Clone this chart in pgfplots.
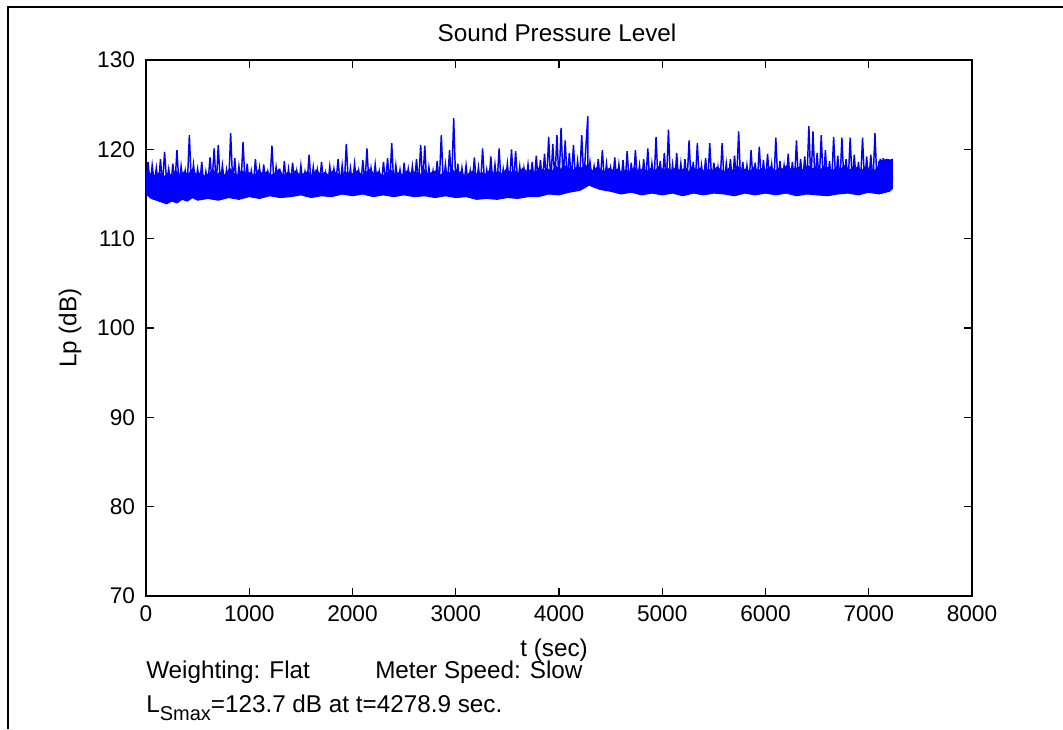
\documentclass[border=0pt]{standalone}
\usepackage{fontspec}
\setmainfont{Liberation Sans}
\usepackage{pgfplots}
\pgfplotsset{compat=1.18}
\begin{document}
\fontsize{18.2}{21}\selectfont
\begin{tikzpicture}
\path[use as bounding box] (-109.5pt,-99.75pt) rectangle (687.75pt,447pt);
\draw[line width=1.5pt] (-103.5pt,-99.75pt) -- (-103.5pt,441.75pt) -- (687.75pt,441.75pt);
\begin{axis}[
  at={(0,0)}, anchor=south west,
  scale only axis, width=619.5pt, height=402pt,
  xmin=0, xmax=8000, ymin=70, ymax=130,
  xtick={0,1000,...,8000}, ytick={70,80,...,130},
  scaled x ticks=false,
  /pgf/number format/1000 sep={},
  /pgf/number format/assume math mode=true,
  tick align=inside, major tick length=6pt,
  axis line style={line width=1.2pt}, tick style={line width=1.1pt, black},
  xticklabel style={anchor=center, inner sep=0pt, yshift=-13.5pt, font=\fontsize{17}{20}\selectfont},
  yticklabel style={anchor=east, inner sep=0pt, xshift=-8pt, font=\fontsize{17}{20}\selectfont},
  every axis title shift=0pt,
  title={Sound Pressure Level},
  title style={at={(axis description cs:0.4976,1.0504)}, anchor=center, inner sep=0pt, font=\fontsize{18.2}{21}\selectfont},
  xlabel={t (sec)},
  xlabel style={at={(axis description cs:0.494,-0.1007)}, anchor=center, inner sep=0pt, font=\fontsize{18.2}{21}\selectfont},
  ylabel={Lp (dB)},
  ylabel style={at={(axis description cs:-0.092,0.5)}, anchor=center, inner sep=0pt, font=\fontsize{18.2}{21}\selectfont},
]
% dense band: upper edge left to right, then lower edge right to left
\addplot[fill=blue, draw=blue, line width=0.7pt] coordinates {
(0,117.4)(10,117.6)(50,117.2)(90,117.0)(130,117.4)(170,116.9)(210,117.3)(250,117.1)(290,117.6)(330,117.0)(370,117.5)(410,117.2)(450,117.8)(490,117.1)(530,117.4)(570,117.0)(610,117.3)(650,117.7)(690,117.2)(730,117.5)(770,117.0)(810,117.9)(850,117.3)(890,117.1)(930,117.6)(970,117.2)
(1010,117.4)(1050,117.0)(1090,117.7)(1130,117.2)(1170,117.5)(1210,117.1)(1250,117.3)(1290,117.8)(1330,117.0)(1370,117.4)(1410,117.2)(1450,117.6)(1490,117.1)(1530,117.3)(1570,117.5)(1610,117.0)(1650,117.7)(1690,117.2)(1730,117.4)(1770,117.1)(1810,117.6)(1850,117.3)(1890,117.0)(1930,117.5)(1970,117.2)
(2010,117.3)(2050,117.6)(2090,117.1)(2130,117.4)(2170,117.8)(2210,117.2)(2250,117.5)(2290,117.0)(2330,117.3)(2370,117.7)(2410,117.2)(2450,117.4)(2490,117.1)(2530,117.6)(2570,117.3)(2610,117.5)(2650,117.0)(2690,117.8)(2730,117.2)(2770,117.4)(2810,117.6)(2850,117.1)(2890,117.5)(2930,117.3)(2970,117.7)
(3010,117.2)(3050,117.5)(3090,117.0)(3130,117.3)(3170,117.6)(3210,117.1)(3250,117.4)(3290,117.2)(3330,117.7)(3370,117.3)(3410,117.5)(3450,117.2)(3490,117.8)(3530,117.4)(3570,117.6)(3610,117.3)(3650,117.9)(3690,117.5)(3730,117.7)(3770,117.4)(3810,118.0)(3850,117.6)(3890,117.8)(3930,117.5)(3970,118.1)
(4010,117.7)(4050,118.2)(4090,117.9)(4130,117.6)(4170,118.0)(4210,117.8)(4250,118.3)(4290,117.9)(4330,117.6)(4370,118.0)(4410,117.7)(4450,117.5)(4490,117.9)(4530,117.6)(4570,117.8)(4610,117.4)(4650,117.7)(4690,117.5)(4730,118.0)(4770,117.6)(4810,117.8)(4850,117.5)(4890,117.9)(4930,117.6)(4970,118.1)
(5010,117.7)(5050,117.9)(5090,117.5)(5130,118.0)(5170,117.6)(5210,117.8)(5250,117.4)(5290,118.1)(5330,117.7)(5370,117.9)(5410,117.5)(5450,117.8)(5490,117.6)(5530,118.0)(5570,117.7)(5610,117.5)(5650,117.9)(5690,117.6)(5730,118.1)(5770,117.7)(5810,117.8)(5850,117.5)(5890,118.0)(5930,117.6)(5970,117.9)
(6010,117.7)(6050,118.1)(6090,117.6)(6130,117.9)(6170,117.8)(6210,118.2)(6250,117.7)(6290,117.9)(6330,118.0)(6370,117.6)(6410,118.2)(6450,117.8)(6490,118.0)(6530,117.7)(6570,118.1)(6610,117.9)(6650,117.6)(6690,118.0)(6730,117.8)(6770,118.2)(6810,117.7)(6850,117.9)(6890,118.0)(6930,117.6)(6970,118.1)
(7010,117.8)(7050,117.6)(7090,118.0)(7110,118.9)(7130,118.7)(7170,118.9)(7210,118.8)(7230,118.9)
(7230,115.6)(7200,115.3)(7100,115.0)(7000,115.2)(6900,114.9)(6800,115.1)(6700,115.0)(6600,114.8)(6500,114.9)(6400,115.0)(6300,114.8)(6200,115.1)(6100,114.9)(6000,115.1)(5900,114.9)(5800,115.1)(5700,114.8)(5600,115.0)(5500,115.1)(5400,114.9)(5300,115.1)(5200,114.8)(5100,115.1)(5000,114.9)(4900,115.1)(4800,114.9)(4700,115.2)(4600,115.0)(4500,115.3)(4400,115.5)(4330,115.8)(4290,116.0)(4250,115.7)(4200,115.4)(4100,115.2)(4000,114.9)(3900,115.0)(3800,114.7)(3700,114.7)(3600,114.5)(3500,114.6)(3400,114.4)(3300,114.5)(3200,114.4)(3100,114.7)(3000,114.6)(2900,114.8)(2800,114.6)(2700,114.8)(2600,114.7)(2500,114.9)(2400,114.7)(2300,114.9)(2200,114.7)(2100,115.0)(2000,114.8)(1900,115.0)(1800,114.7)(1700,114.8)(1600,114.6)(1500,114.9)(1400,114.7)(1300,114.6)(1200,114.8)(1100,114.5)(1000,114.7)(900,114.4)(800,114.6)(700,114.3)(600,114.5)(500,114.3)(450,114.6)(400,114.2)(350,114.4)(300,114.0)(250,114.2)(200,113.9)(150,114.1)(100,114.3)(50,114.5)(0,115.0)
} -- cycle;
\addplot[blue, line width=1.1pt] coordinates {
(0,116.1)(20,118.6)(40,115.9)(60,118.2)(80,116.2)(100,117.9)(120,115.8)(140,118.9)(160,116.0)(180,119.7)(200,116.3)(220,117.8)(240,115.9)(260,118.4)(280,116.1)(300,119.9)(320,115.8)(340,118.1)(360,116.2)(380,117.6)(400,116.0)(420,121.6)(440,115.9)(460,118.3)(480,116.2)(500,117.8)(520,116.0)(540,118.6)(560,115.8)(580,117.5)(600,116.1)(620,119.1)(640,116.3)(660,120.1)(680,115.9)(700,120.5)(720,116.0)(740,118.2)(760,116.2)(780,117.7)(800,115.9)(820,121.8)(840,116.1)(860,119.0)(880,115.8)(900,118.1)(920,116.2)(940,120.8)(960,116.0)(980,118.4)
(1000,115.9)(1020,117.6)(1040,116.2)(1060,118.9)(1080,116.0)(1100,117.9)(1120,115.8)(1140,118.3)(1160,116.1)(1180,117.5)(1200,116.3)(1220,120.4)(1240,115.9)(1260,118.0)(1280,116.2)(1300,117.4)(1320,116.0)(1340,118.7)(1360,115.9)(1380,117.8)(1400,116.1)(1420,118.5)(1440,116.2)(1460,117.6)(1480,115.9)(1500,118.2)(1520,116.0)(1540,117.5)(1560,116.3)(1580,119.4)(1600,115.9)(1620,118.0)(1640,116.1)(1660,117.7)(1680,116.0)(1700,118.6)(1720,116.2)(1740,117.4)(1760,115.9)(1780,118.1)(1800,116.1)(1820,117.8)(1840,116.3)(1860,118.9)(1880,116.0)(1900,118.2)(1920,115.9)(1940,120.6)(1960,116.2)(1980,117.9)
(2000,116.0)(2020,118.4)(2040,116.2)(2060,117.6)(2080,115.9)(2100,118.8)(2120,116.1)(2140,120.1)(2160,116.0)(2180,117.9)(2200,116.3)(2220,118.3)(2240,115.9)(2260,117.5)(2280,116.1)(2300,118.6)(2320,116.2)(2340,119.0)(2360,115.9)(2380,120.7)(2400,116.0)(2420,118.2)(2440,116.2)(2460,117.7)(2480,115.9)(2500,118.5)(2520,116.1)(2540,117.8)(2560,116.0)(2580,118.1)(2600,116.2)(2620,118.9)(2640,115.9)(2660,120.5)(2680,116.1)(2700,120.4)(2720,116.0)(2740,118.0)(2760,116.2)(2780,117.6)(2800,115.9)(2820,118.7)(2840,116.1)(2860,121.6)(2880,116.0)(2900,118.3)(2920,116.2)(2940,119.9)(2960,116.0)(2980,123.5)
(3000,116.1)(3020,118.4)(3040,115.9)(3060,117.9)(3080,116.2)(3100,118.2)(3120,116.0)(3140,117.6)(3160,115.9)(3180,119.1)(3200,116.1)(3220,118.0)(3240,115.9)(3260,120.1)(3280,116.0)(3300,117.7)(3320,116.2)(3340,119.2)(3360,115.9)(3380,118.3)(3400,116.1)(3420,120.1)(3440,116.0)(3460,117.8)(3480,116.2)(3500,118.4)(3520,116.0)(3540,120.0)(3560,116.1)(3580,119.8)(3600,116.2)(3620,118.1)(3640,116.0)(3660,117.9)(3680,116.3)(3700,118.3)(3720,116.1)(3740,118.6)(3760,116.2)(3780,119.3)(3800,116.0)(3820,118.8)(3840,116.3)(3860,119.5)(3880,116.1)(3900,121.4)(3920,116.2)(3940,120.6)(3960,116.4)(3980,121.6)
(4000,116.2)(4020,122.4)(4040,116.4)(4060,121.0)(4080,116.3)(4100,119.6)(4120,116.5)(4140,120.5)(4160,116.4)(4180,118.7)(4200,116.6)(4220,121.6)(4240,116.5)(4279,123.7)(4280,116.7)(4300,118.6)(4320,116.6)(4340,118.1)(4360,116.5)(4380,118.9)(4400,116.4)(4420,119.9)(4440,116.3)(4460,118.4)(4480,116.2)(4500,117.9)(4520,116.3)(4540,119.1)(4560,116.1)(4580,118.3)(4600,116.2)(4620,118.8)(4640,116.0)(4660,119.8)(4680,116.2)(4700,118.5)(4720,116.1)(4740,119.9)(4760,116.3)(4780,118.2)(4800,116.0)(4820,118.9)(4840,116.2)(4860,120.1)(4880,116.1)(4900,118.4)(4920,116.3)(4940,121.4)(4960,116.0)(4980,118.7)
(5000,116.2)(5020,119.6)(5040,116.1)(5060,122.2)(5080,116.3)(5100,118.3)(5120,116.0)(5140,119.6)(5160,116.2)(5180,118.4)(5200,116.1)(5220,118.9)(5240,116.3)(5260,121.0)(5280,116.0)(5300,118.6)(5320,116.2)(5340,120.7)(5360,116.1)(5380,118.2)(5400,116.3)(5420,119.0)(5440,116.0)(5460,120.7)(5480,116.2)(5500,118.5)(5520,116.1)(5540,118.0)(5560,116.3)(5580,120.7)(5600,116.0)(5620,118.4)(5640,116.2)(5660,118.9)(5680,116.1)(5700,119.3)(5720,116.3)(5740,122.0)(5760,116.0)(5780,118.6)(5800,116.2)(5820,118.2)(5840,116.1)(5860,119.9)(5880,116.3)(5900,118.5)(5920,116.0)(5940,120.3)(5960,116.2)(5980,118.8)
(6000,116.1)(6020,119.5)(6040,116.3)(6060,118.3)(6080,116.0)(6100,121.3)(6120,116.2)(6140,118.7)(6160,116.1)(6180,118.2)(6200,116.3)(6220,119.5)(6240,116.0)(6260,118.6)(6280,116.2)(6300,121.0)(6320,116.1)(6340,118.9)(6360,116.3)(6380,119.2)(6400,116.0)(6420,122.6)(6440,116.2)(6460,122.0)(6480,116.1)(6500,119.6)(6520,116.3)(6540,121.6)(6560,116.0)(6580,119.9)(6600,116.2)(6620,118.7)(6640,116.1)(6660,121.4)(6680,116.3)(6700,119.3)(6720,116.0)(6740,121.3)(6760,116.2)(6780,118.9)(6800,116.1)(6820,121.3)(6840,116.3)(6860,119.4)(6880,116.0)(6900,118.6)(6920,116.2)(6940,121.3)(6960,116.1)(6980,119.2)
(7000,116.3)(7020,119.4)(7040,116.0)(7060,121.8)(7080,116.2)(7100,118.7)(7120,116.4)(7140,119.0)(7160,116.5)(7180,118.9)(7200,116.6)(7220,118.8)(7230,116.5)
};
\end{axis}
\node[anchor=base west, inner sep=0pt] at (0pt,-61.5pt) {Weighting: Flat};
\node[anchor=base west, inner sep=0pt] at (171.75pt,-61.5pt) {Meter Speed: Slow};
\node[anchor=base west, inner sep=0pt] at (0pt,-87pt) {L\raisebox{-6pt}{\fontsize{15}{15}\selectfont Smax}=123.7 dB at t=4278.9 sec.};
\end{tikzpicture}
\end{document}
